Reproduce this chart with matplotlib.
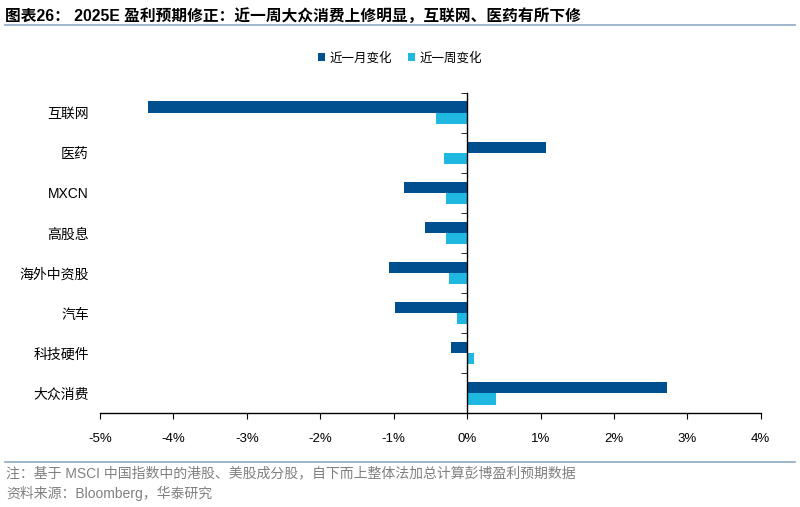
import numpy as np
import matplotlib
matplotlib.use("Agg")
import matplotlib.pyplot as plt
from matplotlib.ticker import FixedLocator, PercentFormatter

plt.rcParams['font.family'] = ['Liberation Sans', 'Noto Sans CJK SC', 'DejaVu Sans']
plt.rcParams['axes.unicode_minus'] = False

# 数据（单位：%）
categories = ["互联网", "医药", "MXCN", "高股息", "海外中资股", "汽车", "科技硬件", "大众消费"]
month_chg = [-4.34, 1.07, -0.86, -0.57, -1.07, -0.98, -0.22, 2.72]
week_chg = [-0.43, -0.31, -0.29, -0.29, -0.25, -0.14, 0.09, 0.40]
xticks = [-5, -4, -3, -2, -1, 0, 1, 2, 3, 4]

c_month = "#00508f"
c_week = "#1fb8e0"

fig = plt.figure(figsize=(8, 5.07), dpi=100)
ax = fig.add_axes([0.125, 0.185, 0.826, 0.632])

n = len(categories)
y = np.arange(n)[::-1]
h = 0.283
ax.barh(y + h / 2, month_chg, height=h, color=c_month, label="近一月变化")
ax.barh(y - h / 2, week_chg, height=h, color=c_week, label="近一周变化")

ax.set_xlim(-5, 4)
ax.set_ylim(-0.5, n - 0.5)
ax.set_xticks(xticks)
ax.xaxis.set_major_formatter(PercentFormatter(decimals=0))
ax.set_yticks(y)
ax.set_yticklabels(categories)
ax.yaxis.set_minor_locator(FixedLocator(np.arange(n + 1) - 0.5))

for s in ["top", "left"]:
    ax.spines[s].set_visible(False)
ax.spines["right"].set_position(("data", 0))
ax.spines["right"].set_linewidth(1.0)
ax.spines["bottom"].set_linewidth(1.0)

ax.tick_params(axis="y", which="major", length=0, pad=8, labelsize=10)
ax.tick_params(axis="y", which="minor", left=False, right=True, direction="in", length=4)
ax.tick_params(axis="x", direction="out", length=4, pad=10, labelsize=9.5)

fig.legend(loc="center", bbox_to_anchor=(0.5, 0.885), ncol=2, frameon=False,
           fontsize=9, handlelength=0.6, handleheight=0.6, handletextpad=0.4,
           columnspacing=1.2)

fig.text(0.006, 0.968, "图表26： 2025E 盈利预期修正：近一周大众消费上修明显，互联网、医药有所下修",
         fontsize=11.3, fontweight="bold", va="center", ha="left")
fig.add_artist(plt.Line2D([0.006, 0.994], [0.95, 0.95], color="#8fa9c4", lw=1.2))
fig.add_artist(plt.Line2D([0.006, 0.994], [0.089, 0.089], color="#8fa9c4", lw=1.2))
fig.text(0.008, 0.066, "注：基于 MSCI 中国指数中的港股、美股成分股，自下而上整体法加总计算彭博盈利预期数据",
         fontsize=10, color="#808080", va="center")
fig.text(0.008, 0.026, "资料来源：Bloomberg，华泰研究", fontsize=10, color="#808080", va="center")

fig.savefig("out.png", dpi=100)
